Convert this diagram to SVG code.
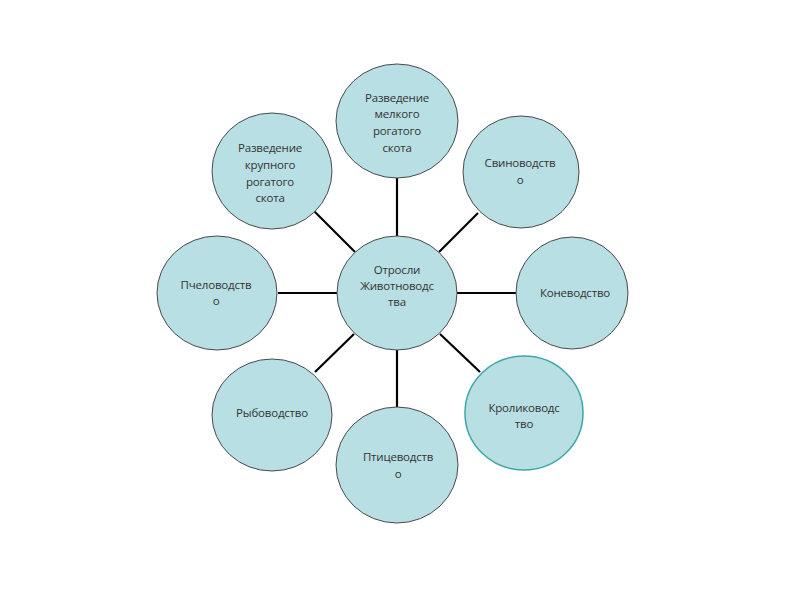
<svg xmlns="http://www.w3.org/2000/svg" width="800" height="600" viewBox="0 0 800 600">
<style>
.n{fill:#b8dfe3;stroke:#4a4a4a;stroke-width:1}
.hl{stroke:#3fa6a6;stroke-width:1.5}
.c{stroke:#000;stroke-width:2.2;fill:none}
text{font-family:"Open Sans","Liberation Sans",sans-serif;font-size:11.5px;fill:#333;text-anchor:middle;letter-spacing:-0.2px}
</style>
<rect width="800" height="600" fill="#fff"/>
<g id="connectors">
<line class="c" x1="397" y1="178" x2="397" y2="236"/>
<line class="c" x1="397" y1="350" x2="397" y2="408"/>
<line class="c" x1="278" y1="293" x2="337" y2="293"/>
<line class="c" x1="457" y1="293" x2="516" y2="293"/>
<line class="c" x1="355" y1="252" x2="314" y2="211"/>
<line class="c" x1="439" y1="252" x2="478" y2="213"/>
<line class="c" x1="440" y1="334" x2="480" y2="372"/>
<line class="c" x1="354" y1="334" x2="315" y2="372"/>
</g>
<g id="center">
<ellipse class="n" cx="397" cy="293" rx="60" ry="57"/>
<text x="397" y="274">Отросли</text>
<text x="397" y="290">Животноводс</text>
<text x="397" y="306">тва</text>
</g>
<g id="top">
<ellipse class="n" cx="397" cy="121" rx="61" ry="57"/>
<text x="397" y="102">Разведение</text>
<text x="397" y="118">мелкого</text>
<text x="397" y="135">рогатого</text>
<text x="397" y="152">скота</text>
</g>
<g id="top-left">
<ellipse class="n" cx="272" cy="171" rx="60" ry="58"/>
<text x="270" y="152">Разведение</text>
<text x="270" y="169">крупного</text>
<text x="270" y="186">рогатого</text>
<text x="270" y="202">скота</text>
</g>
<g id="top-right">
<ellipse class="n" cx="521" cy="172" rx="58" ry="56"/>
<text x="520" y="167">Свиноводств</text>
<text x="520" y="184">о</text>
</g>
<g id="left">
<ellipse class="n" cx="217" cy="293" rx="60" ry="57"/>
<text x="216" y="289">Пчеловодств</text>
<text x="216" y="305">о</text>
</g>
<g id="right">
<ellipse class="n" cx="572" cy="293" rx="56" ry="56"/>
<text x="575" y="297">Коневодство</text>
</g>
<g id="bottom-left">
<ellipse class="n" cx="272" cy="415" rx="60" ry="56"/>
<text x="272" y="417">Рыбоводство</text>
</g>
<g id="bottom-right">
<ellipse class="n hl" cx="524" cy="413" rx="59" ry="57"/>
<text x="524" y="412">Кролиководс</text>
<text x="524" y="428">тво</text>
</g>
<g id="bottom">
<ellipse class="n" cx="397" cy="465" rx="61" ry="58"/>
<text x="398" y="461">Птицеводств</text>
<text x="398" y="478">о</text>
</g>
</svg>
